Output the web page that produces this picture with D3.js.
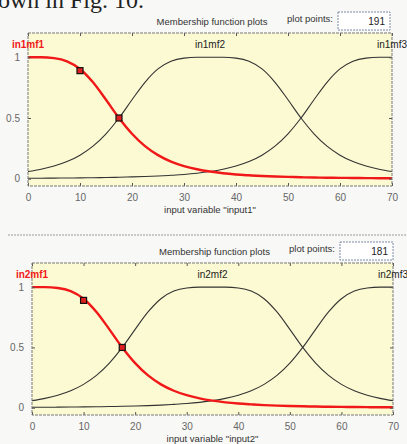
<!DOCTYPE html>
<html>
<head>
<meta charset="utf-8">
<script src="https://cdn.jsdelivr.net/npm/d3@7"></script>
<style>
  body { margin: 0; background: #f8f8f6; }
  svg { display: block; }
  text { font-family: "Liberation Sans", Arial, sans-serif; }
  .tick { fill: #555; font-size: 10px; }
  .mfLabel { fill: #222; font-size: 10px; }
  .caption { fill: #333; font-size: 9.5px; }
</style>
</head>
<body>
<svg></svg>
<script>
// x grid the membership values are read at
var xs = [0, 2.5, 5, 7.5, 10, 12.5, 15, 17.5, 20, 22.5, 25, 27.5, 30, 32.5, 35,
          37.5, 40, 42.5, 45, 47.5, 50, 52.5, 55, 57.5, 60, 62.5, 65, 67.5, 70];

// membership values (same shapes on both inputs)
var mf1Vals = [1.000, 1.000, 0.993, 0.967, 0.904, 0.794, 0.650, 0.500, 0.370, 0.268,
               0.194, 0.141, 0.104, 0.078, 0.059, 0.045, 0.035, 0.028, 0.022, 0.018,
               0.015, 0.012, 0.010, 0.008, 0.007, 0.006, 0.005, 0.004, 0.004];
var mf2Vals = [0.059, 0.078, 0.104, 0.141, 0.194, 0.268, 0.370, 0.500, 0.650, 0.794,
               0.904, 0.967, 0.993, 1.000, 1.000, 1.000, 0.993, 0.967, 0.904, 0.794,
               0.650, 0.500, 0.370, 0.268, 0.194, 0.141, 0.104, 0.078, 0.059];
var mf3Vals = [0.004, 0.004, 0.005, 0.006, 0.007, 0.008, 0.010, 0.012, 0.015, 0.018,
               0.022, 0.028, 0.035, 0.045, 0.059, 0.078, 0.104, 0.141, 0.194, 0.268,
               0.370, 0.500, 0.650, 0.794, 0.904, 0.967, 0.993, 1.000, 1.000];

// label positions (peak of each mf)
var mfPeaks = [0, 35, 70];

// handles on the selected (red) mf
var handleX = [10, 17.5];
var handleY = [0.89, 0.5];

var xTicks = [0, 10, 20, 30, 40, 50, 60, 70];
var yTicks = [0, 0.5, 1];

var inputs = ["input1", "input2"];
var plotPoints = ["191", "181"];

var svg = d3.select("svg")
    .attr("width", 407)
    .attr("height", 444);

// caption line from the page above, cut by the top edge like the scan
svg.append("text")
  .attr("x", -2)
  .attr("y", 8)
  .style("font-family", "'Liberation Serif', 'Times New Roman', serif")
  .style("font-size", "24px")
  .style("fill", "#222")
  .text("own in Fig. 10.");

// panel separator
svg.append("line")
  .attr("x1", 8).attr("x2", 407)
  .attr("y1", 235).attr("y2", 235)
  .style("stroke", "#9a9a9a")
  .style("stroke-dasharray", "2,1");

var panels = [
  {left: 28, right: 392, top: 33, bottom: 186, titleY: 25, boxX: 338, boxY: 12, boxW: 52},
  {left: 32, right: 393, top: 263, bottom: 415, titleY: 255, boxX: 340, boxY: 242, boxW: 53}
];

panels.forEach(function(p, n) {
  var name = inputs[n];
  var idx = n + 1;

  var x = d3.scaleLinear().domain([0, 70]).range([p.left, p.right]);
  var y = d3.scaleLinear().domain([-0.06, 1.2]).range([p.bottom, p.top]);

  var g = svg.append("g");

  // header
  g.append("text")
    .attr("class", "caption")
    .attr("x", (p.left + p.right) / 2 + 2)
    .attr("y", p.titleY)
    .attr("text-anchor", "middle")
    .text("Membership function plots");

  g.append("text")
    .attr("class", "caption")
    .attr("x", p.boxX - 5)
    .attr("y", p.titleY - 3)
    .attr("text-anchor", "end")
    .text("plot points:");

  g.append("rect")
    .attr("x", p.boxX).attr("y", p.boxY)
    .attr("width", p.boxW).attr("height", 18)
    .style("fill", "#fff")
    .style("stroke", "#7d8aa6")
    .style("stroke-dasharray", "2,1");

  g.append("text")
    .attr("x", p.boxX + p.boxW - 5)
    .attr("y", p.boxY + 13)
    .attr("text-anchor", "end")
    .style("font-size", "10px")
    .style("fill", "#222")
    .text(plotPoints[n]);

  // axes area
  g.append("rect")
    .attr("x", p.left).attr("y", p.top)
    .attr("width", p.right - p.left).attr("height", p.bottom - p.top)
    .style("fill", "#fcfad2");

  var line = d3.line()
    .x(function(d, i) { return x(xs[i]); })
    .y(function(d) { return y(d); })
    .curve(d3.curveMonotoneX);

  g.append("path")
    .attr("d", line(mf2Vals))
    .style("fill", "none")
    .style("stroke", "#333")
    .style("stroke-width", 1.1);

  g.append("path")
    .attr("d", line(mf3Vals))
    .style("fill", "none")
    .style("stroke", "#333")
    .style("stroke-width", 1.1);

  g.append("path")
    .attr("d", line(mf1Vals))
    .style("fill", "none")
    .style("stroke", "#f01818")
    .style("stroke-width", 2.4);

  g.selectAll(".handle")
    .data(handleX)
    .enter()
    .append("rect")
    .attr("class", "handle")
    .attr("x", function(d) { return x(d) - 3; })
    .attr("y", function(d, i) { return y(handleY[i]) - 3; })
    .attr("width", 6).attr("height", 6)
    .style("fill", "#e02020")
    .style("stroke", "#111")
    .style("stroke-width", 1.2);

  // axes with inward ticks on all sides
  var xAxis = d3.axisBottom(x).tickValues(xTicks).tickSize(-3).tickPadding(8);
  var gx = g.append("g")
    .attr("transform", "translate(0," + p.bottom + ")")
    .call(xAxis);
  g.append("g")
    .attr("transform", "translate(0," + p.top + ")")
    .call(d3.axisTop(x).tickValues(xTicks).tickSize(-3).tickFormat(""));

  var yAxis = d3.axisLeft(y).tickValues(yTicks).tickSize(-3).tickPadding(8)
    .tickFormat(function(d) { return d == 0.5 ? "0.5" : d; });
  var gy = g.append("g")
    .attr("transform", "translate(" + p.left + ",0)")
    .call(yAxis);
  g.append("g")
    .attr("transform", "translate(" + p.right + ",0)")
    .call(d3.axisRight(y).tickValues(yTicks).tickSize(-3).tickFormat(""));

  g.selectAll(".domain").remove();
  g.selectAll(".tick line").style("stroke", "#555");
  [gx, gy].forEach(function(a) {
    a.selectAll("text")
      .style("font-family", "'Liberation Sans', Arial, sans-serif")
      .style("font-size", "10px")
      .style("fill", "#666");
  });

  // box outline
  g.append("rect")
    .attr("x", p.left).attr("y", p.top)
    .attr("width", p.right - p.left).attr("height", p.bottom - p.top)
    .style("fill", "none")
    .style("stroke", "#777")
    .style("stroke-dasharray", "3,1");

  // mf labels
  g.selectAll(".mfLabel")
    .data(mfPeaks)
    .enter()
    .append("text")
    .attr("class", "mfLabel")
    .attr("x", function(d) { return x(d); })
    .attr("y", p.top + 15)
    .attr("text-anchor", "middle")
    .style("fill", function(d, i) { return i == 0 ? "#f01818" : "#222"; })
    .style("font-weight", function(d, i) { return i == 0 ? "bold" : "normal"; })
    .text(function(d, i) { return "in" + idx + "mf" + (i + 1); });

  g.append("text")
    .attr("class", "caption")
    .attr("x", (p.left + p.right) / 2)
    .attr("y", p.bottom + 27)
    .attr("text-anchor", "middle")
    .text("input variable \"" + name + "\"");
});
</script>
</body>
</html>
